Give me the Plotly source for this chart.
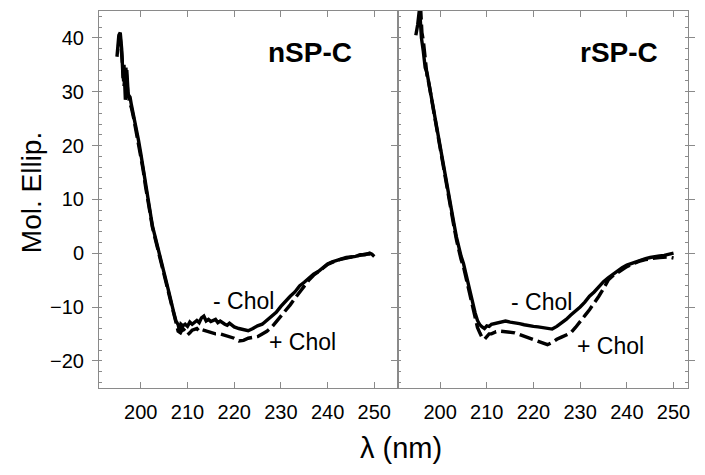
import plotly.graph_objects as go

# ---------------- data ----------------
# nSP-C, - Chol (solid)
n_minus_x = [194.9, 195.3, 195.6, 195.9, 196.2, 196.4, 196.7, 197.0, 197.3, 197.7, 198, 198.5, 199, 199.5,
             200, 200.5, 201, 201.5, 202, 202.5, 203, 204, 205, 206, 207, 207.5, 208, 208.3, 208.6, 209,
             209.5, 210, 210.5, 211, 212, 212.5, 213, 213.5, 214, 214.5, 215, 216, 216.5, 217, 218, 218.5,
             219, 220, 221, 222, 223, 224, 225, 226, 227, 228, 229, 230, 231, 232, 233, 234, 235, 236, 237,
             238, 239, 240, 241, 242, 243, 244, 245, 246, 247, 248, 249, 249.5, 250]
n_minus_y = [36.5, 40.5, 41.0, 38.0, 32.5, 35.0, 28.5, 34.0, 29.5, 29.0, 27.5, 25.5, 23.5, 21.0,
             18.5, 15.8, 13.0, 10.2, 7.0, 5.0, 3.3, 0.0, -3.7, -7.2, -10.8, -12.5, -13.3, -14.5, -13.2, -13.5,
             -13.2, -13.6, -12.8, -13.2, -12.5, -12.9, -12.0, -11.7, -12.6, -12.3, -12.7, -12.3, -12.9, -12.6, -13.2, -13.4,
             -13.0, -13.7, -14.0, -14.2, -14.4, -14.0, -13.5, -13.2, -12.5, -11.8, -11.0, -9.9, -8.9, -8.0, -7.2, -6.1, -5.4, -4.6, -3.9,
             -3.4, -2.6, -2.0, -1.6, -1.3, -1.0, -0.8, -0.7, -0.6, -0.3, -0.3, 0.0, -0.2, -0.6]

# nSP-C, + Chol (dashed)
n_plus_x = [195.2, 195.6, 196.0, 196.4, 196.8, 197.2, 197.6, 198, 198.5, 199, 199.5, 200, 200.5, 201, 201.5,
            202, 202.5, 203, 204, 205, 206, 207, 207.5, 208, 208.5, 209, 209.5, 210, 210.5, 211, 212, 212.5,
            213, 214, 215, 216, 217, 218, 219, 220, 221, 222, 223, 224, 225, 226, 227, 228, 229, 230, 231,
            232, 233, 234, 235, 236, 237, 238, 239, 240, 241, 242, 243, 244, 245, 246, 247, 248, 249, 250]
n_plus_y = [38.5, 40.0, 36.0, 31.0, 34.5, 30.0, 28.0, 27.0, 25.0, 22.8, 20.5, 18.0, 15.5, 12.5, 9.8,
            6.8, 4.8, 3.0, -0.3, -4.0, -7.5, -11.0, -13.0, -14.5, -14.8, -14.0, -14.5, -15.2, -14.8, -14.3, -14.0, -14.5,
            -14.2, -14.5, -14.7, -15.0, -15.0, -15.3, -15.5, -15.8, -16.3, -16.2, -15.8, -15.6, -15.5, -15.0, -14.5, -13.8, -12.8, -11.8, -10.6,
            -9.6, -8.4, -7.3, -6.0, -5.0, -4.1, -3.5, -2.8, -2.1, -1.7, -1.3, -1.1, -0.9, -0.7, -0.5, -0.4, -0.2, -0.1, -0.5]

# rSP-C, - Chol (solid)
r_minus_x = [194.8, 195.2, 195.6, 196.0, 196.4, 196.8, 197.2, 197.6, 198, 198.5, 199, 199.5, 200, 200.5, 201,
             201.5, 202, 202.5, 203, 203.5, 204, 204.5, 205, 205.5, 206, 206.5, 207, 207.5, 208, 208.5, 209,
             209.5, 210, 210.5, 211, 212, 213, 214, 215, 216, 217, 218, 219, 220, 221, 222, 223, 224, 225,
             226, 227, 228, 229, 230, 231, 232, 233, 234, 235, 236, 237, 238, 239, 240, 241, 242, 243, 244,
             245, 246, 247, 248, 249, 250]
r_minus_y = [40.5, 42.5, 45.5, 40.0, 37.5, 34.5, 33.5, 31.5, 29.5, 27.5, 25.0, 22.5, 19.5, 17.0, 14.5,
             12.0, 9.5, 7.8, 5.3, 3.0, 1.0, -0.6, -1.9, -3.8, -5.6, -7.4, -9.3, -11.1, -12.5, -13.3, -13.7,
             -14.0, -13.5, -13.6, -13.2, -13.0, -12.7, -12.6, -12.8, -12.9, -13.1, -13.3, -13.5, -13.6, -13.7, -13.8, -13.9, -14.1, -13.6,
             -13.0, -12.3, -11.5, -10.8, -10.0, -9.1, -8.0, -7.2, -6.2, -5.3, -4.6, -3.9, -3.3, -2.7, -2.2, -1.9, -1.5, -1.2, -1.0,
             -0.8, -0.6, -0.5, -0.4, -0.2, 0.0]

# rSP-C, + Chol (dashed)
r_plus_x = [195.8, 196.1, 196.4, 196.8, 197.2, 197.6, 198, 198.5, 199, 199.5, 200, 200.5, 201, 201.5, 202,
            202.5, 203, 203.5, 204, 204.5, 205, 205.5, 206, 206.5, 207, 207.5, 208, 208.5, 209, 209.5, 210,
            210.5, 211, 212, 213, 214, 215, 216, 217, 218, 219, 220, 221, 222, 223, 224, 225, 226, 227, 228,
            229, 230, 231, 232, 233, 234, 235, 236, 237, 238, 239, 240, 241, 242, 243, 244, 245, 246, 247,
            248, 249, 250]
r_plus_y = [46.0, 41.0, 39.5, 36.5, 33.0, 31.5, 29.0, 27.0, 24.5, 22.0, 19.0, 16.5, 14.0, 11.5, 9.0,
            7.2, 4.8, 2.5, 0.5, -1.2, -2.5, -4.4, -6.2, -8.0, -10.0, -12.0, -13.8, -14.8, -15.7, -16.0, -15.4,
            -15.0, -15.0, -14.6, -14.5, -14.6, -14.7, -14.8, -15.1, -15.4, -15.7, -16.0, -16.4, -16.7, -17.0, -16.6, -16.0, -15.6, -15.2, -14.8,
            -13.8, -12.8, -11.6, -10.5, -9.3, -8.0, -6.6, -5.0, -4.2, -3.6, -3.1, -2.5, -2.1, -1.7, -1.4, -1.2, -1.0, -0.9, -0.8,
            -0.8, -0.7, -0.9]

x_ticks = [200, 210, 220, 230, 240, 250]
y_ticks = [-20, -10, 0, 10, 20, 30, 40]
panel_titles = ["nSP-C", "rSP-C"]
curve_labels = ["- Chol", "+ Chol"]

# ---------------- figure ----------------
FONT = "Liberation Sans, Arial, sans-serif"
AX = "#8a8a8a"
fig = go.Figure()

solid = dict(color="black", width=3.4)
dashed = dict(color="black", width=3.4, dash="14px,5px")

fig.add_trace(go.Scatter(x=n_plus_x, y=n_plus_y, mode="lines", line=dashed, xaxis="x", yaxis="y"))
fig.add_trace(go.Scatter(x=n_minus_x, y=n_minus_y, mode="lines", line=solid, xaxis="x", yaxis="y"))
fig.add_trace(go.Scatter(x=r_plus_x, y=r_plus_y, mode="lines", line=dashed, xaxis="x2", yaxis="y2"))
fig.add_trace(go.Scatter(x=r_minus_x, y=r_minus_y, mode="lines", line=solid, xaxis="x2", yaxis="y2"))

L, R, T, B = 99, 10.3, 10, 86.7
W, H = 705, 475
pw = W - L - R
ph = H - T - B
split = (401.5 - L) / pw

xcommon = dict(tickvals=x_ticks, ticks="inside", ticklen=6, tickcolor=AX, tickwidth=1,
               showline=True, linecolor=AX, linewidth=1, mirror="ticks", showgrid=False, zeroline=False,
               ticklabelstandoff=6,
               tickfont=dict(family=FONT, size=20, color="black"))
ycommon = dict(tickvals=y_ticks, range=[-25.05, 45], ticks="outside", ticklen=6, tickcolor=AX, tickwidth=1,
               showline=True, linecolor=AX, linewidth=1, showgrid=False, zeroline=False,
               minor=dict(dtick=2, ticks="inside", ticklen=3, tickcolor=AX),
               tickfont=dict(family=FONT, size=20, color="black"))

fig.update_layout(
    width=W, height=H, margin=dict(l=L, r=R, t=T, b=B),
    paper_bgcolor="white", plot_bgcolor="white", showlegend=False,
    xaxis=dict(domain=[0, split], range=[191.05, 255.1], anchor="y", **xcommon),
    xaxis2=dict(domain=[split, 1], range=[191.0, 253.1], anchor="y2", **xcommon),
    yaxis=dict(domain=[0, 1], anchor="x", mirror=True, ticklabelstandoff=4, **ycommon),
    yaxis2=dict(domain=[0, 1], anchor="x2", mirror="ticks", showticklabels=False, **ycommon),
)

ann = []
ann.append(dict(x=236.3, y=37.2, xref="x", yref="y", text="<b>" + panel_titles[0] + "</b>", showarrow=False,
                font=dict(family=FONT, size=28, color="black")))
ann.append(dict(x=238.3, y=37.2, xref="x2", yref="y2", text="<b>" + panel_titles[1] + "</b>", showarrow=False,
                font=dict(family=FONT, size=28, color="black")))
lab_font = dict(family=FONT, size=23, color="black")
ann.append(dict(x=221.9, y=-8.9, xref="x", yref="y", text=curve_labels[0], showarrow=False, font=lab_font))
ann.append(dict(x=234.6, y=-16.5, xref="x", yref="y", text=curve_labels[1], showarrow=False, font=lab_font))
ann.append(dict(x=221.8, y=-9.1, xref="x2", yref="y2", text=curve_labels[0], showarrow=False, font=lab_font))
ann.append(dict(x=236.4, y=-17.2, xref="x2", yref="y2", text=curve_labels[1], showarrow=False, font=lab_font))
# axis titles
ann.append(dict(x=(31 - L) / pw, y=(388.3 - 192) / ph, xref="paper", yref="paper", text="Mol. Ellip.",
                xanchor="center", yanchor="middle",
                textangle=-90, showarrow=False, font=dict(family=FONT, size=28, color="black")))
ann.append(dict(x=(404 - L) / pw, y=(388.3 - 449) / ph, xref="paper", yref="paper", text="λ (nm)",
                xanchor="center", yanchor="middle",
                showarrow=False, font=dict(family=FONT, size=29, color="black")))
fig.update_layout(annotations=ann)

fig.write_html("out.html")
